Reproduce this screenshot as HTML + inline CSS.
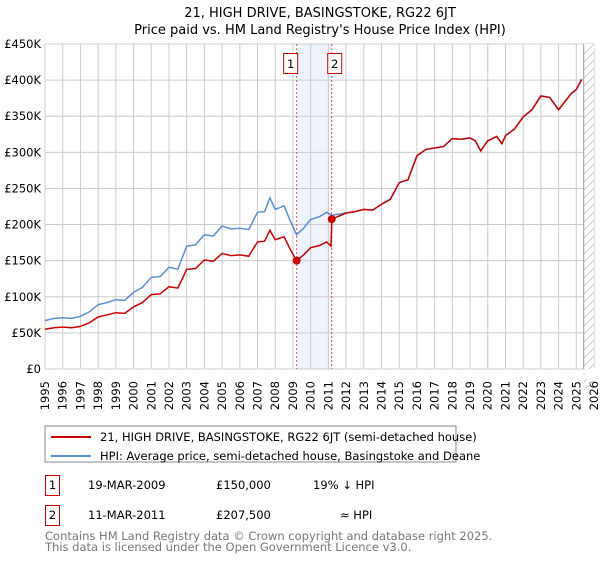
<!DOCTYPE html>
<html><head><meta charset="utf-8"><style>
body{margin:0;background:#fff;font-family:"DejaVu Sans","Liberation Sans",sans-serif;}
svg text{font-family:"DejaVu Sans","Liberation Sans",sans-serif;}
</style></head><body>
<svg id="c" width="600" height="560" viewBox="0 0 600 560">
<text x="320" y="17" font-size="13" text-anchor="middle">21, HIGH DRIVE, BASINGSTOKE, RG22 6JT</text>
<text x="320" y="34" font-size="13" text-anchor="middle">Price paid vs. HM Land Registry's House Price Index (HPI)</text>
<g id="plot"></g>
<rect x="45" y="426" width="411" height="36" fill="#fff" stroke="#888"/>
<line x1="51" y1="437" x2="91" y2="437" stroke="#cc0000" stroke-width="2"/>
<text x="100" y="441" font-size="11.5">21, HIGH DRIVE, BASINGSTOKE, RG22 6JT (semi-detached house)</text>
<line x1="51" y1="456" x2="91" y2="456" stroke="#5b8fd4" stroke-width="2"/>
<text x="100" y="460" font-size="11.5">HPI: Average price, semi-detached house, Basingstoke and Deane</text>
<g font-size="11.5">
<rect x="45.5" y="475.5" width="14" height="20" fill="none" stroke="#cc0000"/>
<text x="52.5" y="489" text-anchor="middle">1</text>
<text x="88" y="489">19-MAR-2009</text>
<text x="216" y="489">£150,000</text>
<text x="313" y="489">19% ↓ HPI</text>
<rect x="45.5" y="505.5" width="14" height="20" fill="none" stroke="#cc0000"/>
<text x="52.5" y="519" text-anchor="middle">2</text>
<text x="88" y="519">11-MAR-2011</text>
<text x="216" y="519">£207,500</text>
<text x="340" y="519">≈ HPI</text>
</g>
<text x="45" y="540" font-size="11.5" fill="#777">Contains HM Land Registry data © Crown copyright and database right 2025.</text>
<text x="45" y="551" font-size="11.5" fill="#777">This data is licensed under the Open Government Licence v3.0.</text>
</svg>
<script>
const hpiDates=[1995.0,1995.5,1996,1996.5,1997,1997.5,1998,1998.5,1999,1999.5,2000,2000.5,2001,2001.5,2002,2002.5,2003,2003.5,2004,2004.5,2005,2005.5,2006,2006.5,2007,2007.4,2007.7,2008,2008.5,2008.8,2009.2,2009.6,2010,2010.5,2010.9,2011.2,2012,2012.5,2013,2013.5,2014,2014.5,2015,2015.5,2016,2016.5,2017,2017.5,2018,2018.5,2019,2019.3,2019.6,2020,2020.5,2020.8,2021,2021.5,2022,2022.5,2023,2023.5,2024,2024.7,2025,2025.3];
const hpiValues=[67,70,71,70,73,79,89,92,96,95,106,113,127,128,141,138,170,172,186,184,198,194,195,193,217,218,237,221,226,208,186,195,207,211,217,213,216,218,221,220,228,235,258,262,295,304,306,308,319,318,320,316,302,316,322,312,323,332,349,359,378,376,359,381,387,401];
const redDates=[1995.0,1995.5,1996,1996.5,1997,1997.5,1998,1998.5,1999,1999.5,2000,2000.5,2001,2001.5,2002,2002.5,2003,2003.5,2004,2004.5,2005,2005.5,2006,2006.5,2007,2007.4,2007.7,2008,2008.5,2008.8,2009.2,2009.6,2010,2010.5,2010.9,2011.15,2011.2,2012,2012.5,2013,2013.5,2014,2014.5,2015,2015.5,2016,2016.5,2017,2017.5,2018,2018.5,2019,2019.3,2019.6,2020,2020.5,2020.8,2021,2021.5,2022,2022.5,2023,2023.5,2024,2024.7,2025,2025.3];
const redValues=[55,57,58,57,59,64,72,75,78,77,86,92,103,104,114,112,138,139,151,149,160,157,158,156,176,177,192,179,183,168,150,158,168,171,176,170,207.5,216,218,221,220,228,235,258,262,295,304,306,308,319,318,320,316,302,316,322,312,323,332,349,359,378,376,359,381,387,401];
const saleDates=[2009.21,2011.19];
const salePrices=[150,207.5];
const yTicks=[0,50,100,150,200,250,300,350,400,450];
const yTickLabels=["£0","£50K","£100K","£150K","£200K","£250K","£300K","£350K","£400K","£450K"];
const years=[1995,1996,1997,1998,1999,2000,2001,2002,2003,2004,2005,2006,2007,2008,2009,2010,2011,2012,2013,2014,2015,2016,2017,2018,2019,2020,2021,2022,2023,2024,2025,2026];
const X0=45,X1=594,Y0=369,Y1=44;
const xs=t=>X0+(t-1995)/(2026-1995)*(X1-X0);
const ys=v=>Y0-v/450*(Y0-Y1);
const NS="http://www.w3.org/2000/svg";
const g=document.getElementById('plot');
function mk(tag,attrs){const e=document.createElementNS(NS,tag);for(const k in attrs)e.setAttribute(k,attrs[k]);g.appendChild(e);return e;}
let e=mk('rect',{x:xs(2009.21),y:Y1,width:xs(2011.19)-xs(2009.21),height:Y0-Y1,fill:'#eef3fc'});


years.forEach(y=>{const l=mk('line',{x1:xs(y),x2:xs(y),y1:Y1,y2:Y0,stroke:'#cccccc'});


const tx=xs(y)+4,ty=381;
const t=mk('text',{x:tx,y:ty,'font-size':11.5,'text-anchor':'end',transform:`rotate(-90 ${tx} ${ty})`});t.textContent=y;

});
yTicks.forEach((v,i)=>{const l=mk('line',{x1:X0,x2:X1,y1:ys(v),y2:ys(v),stroke:'#cccccc'});


const t=mk('text',{x:X0-4,y:ys(v)+4,'font-size':11.5,'text-anchor':'end'});t.textContent=yTickLabels[i];

});
const hx=xs(2025.42);
e=mk('rect',{x:hx,y:Y1,width:X1-hx,height:Y0-Y1,fill:'#fff'});


for(let y=Y1;y<Y0+12;y+=8){mk('line',{x1:hx,y1:y+(X1-hx),x2:X1,y2:y,stroke:'#bbb','stroke-width':0.8});}
mk('line',{x1:hx,x2:hx,y1:Y1,y2:Y0,stroke:'#999','stroke-width':1});
mk('rect',{x:hx+1,y:Y0,width:X1-hx,height:10,fill:'#fff'});
saleDates.forEach(d=>{const l=mk('line',{x1:xs(d),x2:xs(d),y1:Y1,y2:Y0,stroke:'#e05050','stroke-dasharray':'2,2'});

});
function path(ds,vs,col,name){const p=mk('path',{d:ds.map((d,i)=>(i?'L':'M')+xs(d).toFixed(1)+','+ys(vs[i]).toFixed(1)).join(''),fill:'none',stroke:col,'stroke-width':1.5});

}
path(hpiDates,hpiValues,'#5b8fd4','hpi-line');
path(redDates,redValues,'#cc0000','price-paid-line');
saleDates.forEach((d,i)=>{const c=mk('circle',{cx:xs(d),cy:ys(salePrices[i]),r:4,fill:'#cc0000'});


const r=mk('rect',{x:xs(d)-(i?4:13),y:53.5,width:14,height:20,fill:'#fff',stroke:'#cc0000'});


const t=mk('text',{x:xs(d)-(i?-3:6),y:68,'font-size':11.5,'text-anchor':'middle'});t.textContent=i+1;

});
</script>
</body></html>
